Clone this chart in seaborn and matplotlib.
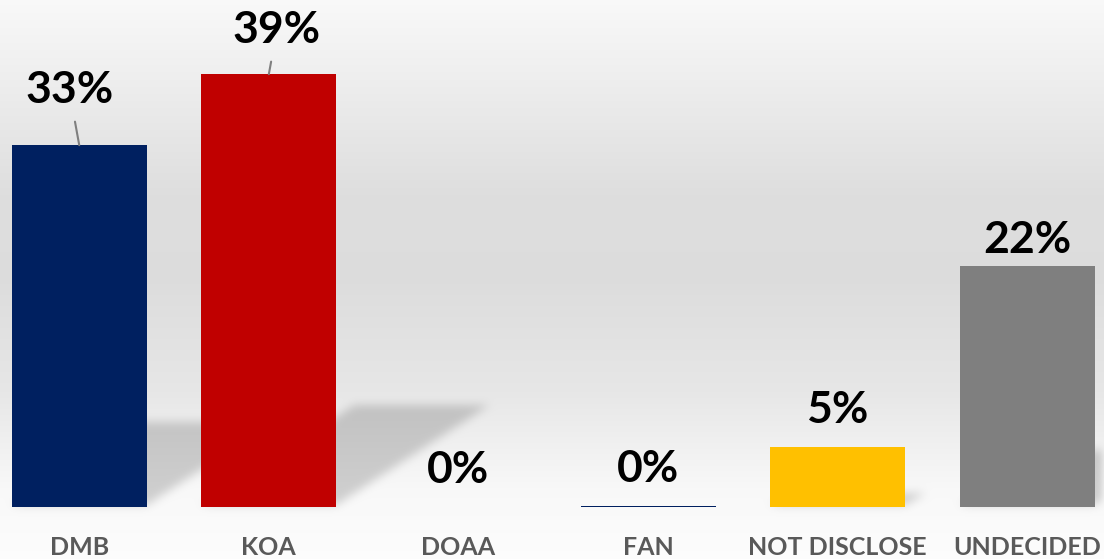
import numpy as np
import pandas as pd
import matplotlib
matplotlib.use('Agg')
import matplotlib.pyplot as plt
from matplotlib.path import Path
import seaborn as sns

categories = ['DMB', 'KOA', 'DOAA', 'FAN', 'NOT DISCLOSE', 'UNDECIDED']
values = [32.6, 39.0, 0.0, 0.1, 5.4, 21.7]
colors = ['#002060', '#C00000', '#002060', '#002060', '#FFC000', '#7F7F7F']

df = pd.DataFrame({'party': categories, 'share': values})

sns.set_theme(style='white')
plt.rcParams['font.family'] = ['Lato', 'DejaVu Sans']

W, H = 1104, 559
fig = plt.figure(figsize=(W / 100, H / 100), dpi=100)

ax = fig.add_axes([0, 52 / H, 1, 507 / H])
ax.set_facecolor('none')
sns.barplot(data=df, x='party', y='share', hue='party', palette=colors,
            width=0.712, legend=False, ax=ax, saturation=1, linewidth=0, zorder=3)
ax.set_xlim(-0.418, 5.405)
ax.set_ylim(0, 45.68)
for s in ax.spines.values():
    s.set_visible(False)
ax.set_yticks([])
ax.set_xlabel('')
ax.set_ylabel('')
ax.tick_params(axis='x', length=0, pad=21)
for lab in ax.get_xticklabels():
    lab.set_fontsize(18)
    lab.set_fontweight('bold')
    lab.set_color('#595959')

# background: vertical gradient plus blurred perspective shadows of the bars
fig.canvas.draw()
rows = np.linspace(1, 0, H)
stops_y = [0.0, 0.12, 0.35, 0.50, 0.70, 0.88, 1.0]
stops_v = [0.975, 0.94, 0.87, 0.865, 0.905, 0.975, 0.99]
shade = np.interp(1 - rows, stops_y, stops_v)[::-1]
base = np.repeat(shade[:, None], W, axis=1)

yy, xx = np.mgrid[0:H, 0:W]
grid = np.column_stack([xx.ravel() + 0.5, yy.ravel() + 0.5])
mask = np.zeros(H * W)
for bar in ax.patches:
    x0, x1 = bar.get_x(), bar.get_x() + bar.get_width()
    (px0, py0), (px1, py1) = ax.transData.transform([(x0, 0), (x1, bar.get_height())])
    bh = py1 - py0
    if bh < 3:
        continue
    sh = 0.235 * bh
    dx = 1.5 * sh
    pts = [(px0, py0 + 2), (px1, py0 + 2), (px1 + dx, py0 + sh), (px0 + dx, py0 + sh)]
    mask = np.maximum(mask, Path(pts).contains_points(grid).astype(float))
mask = mask.reshape(H, W)
k = np.ones(9) / 9
for _ in range(3):
    mask = np.apply_along_axis(lambda r: np.convolve(r, k, mode='same'), 1, mask)
    mask = np.apply_along_axis(lambda c: np.convolve(c, k, mode='same'), 0, mask)
img = base * (1 - 0.17 * mask)

bg = fig.add_axes([0, 0, 1, 1], zorder=-5)
bg.imshow(np.dstack([img, img, img]), origin='lower', aspect='auto',
          extent=[0, 1, 0, 1], interpolation='nearest')
bg.axis('off')

# value labels
label_offsets = [(-10, 55), (8, 44), (0, 37), (0, 37), (0, 37), (0, 26)]
for i, (v, off) in enumerate(zip(values, label_offsets)):
    txt = f'{round(v):.0f}%'
    arrow = None
    if i < 2:
        arrow = dict(arrowstyle='-', color='#7F7F7F', lw=1.5, shrinkA=6, shrinkB=0)
    ax.annotate(txt, xy=(i, v), xytext=off, textcoords='offset pixels',
                ha='center', va='center', fontsize=32, fontweight='bold',
                color='black', zorder=5, arrowprops=arrow)

fig.savefig('out.png', dpi=100)
